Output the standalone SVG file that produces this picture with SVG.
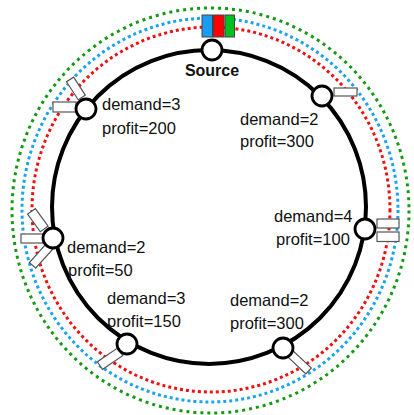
<svg xmlns="http://www.w3.org/2000/svg" width="414" height="415" viewBox="0 0 414 415">
<style>
.ring{fill:none;stroke-width:3}
.red{stroke:#ee1111;stroke-dasharray:3 3}
.blue{stroke:#1aa3f2;stroke-dasharray:3 3}
.green{stroke:#139a13;stroke-dasharray:3 4}
.box{fill:#fff;stroke:#555;stroke-width:1.2}
.node{fill:#fff;stroke:#000;stroke-width:2.8}
.lbl{font-family:"Liberation Sans",Arial,sans-serif;font-size:16.5px;fill:#111}
.src{font-family:"Liberation Sans",Arial,sans-serif;font-size:16px;font-weight:bold;fill:#111}
</style>
<rect width="414" height="415" fill="#fff"/>
<g id="connectors">
<ellipse class="ring green" cx="210.5" cy="210.5" rx="198.5" ry="202.5"/>
<ellipse class="ring blue" cx="210" cy="210" rx="188" ry="192"/>
<ellipse class="ring red" cx="211" cy="209.5" rx="179" ry="182.5"/>
<circle cx="209" cy="207" r="157" fill="none" stroke="#000" stroke-width="4"/>
</g>
<g id="battery">
<rect x="202" y="15" width="10.5" height="22" fill="#1a9cf2" stroke="#444" stroke-width="1"/>
<rect x="213.5" y="15" width="10.5" height="22" fill="#ff0000" stroke="#444" stroke-width="1"/>
<rect x="225" y="15" width="9.5" height="22" fill="#00c020" stroke="#444" stroke-width="1"/>
</g>
<g id="source">
<circle class="node" cx="212" cy="50" r="10"/>
<text class="src" x="212" y="76" text-anchor="middle">Source</text>
</g>
<g id="node-tl">
<rect class="box" x="53" y="102" width="23" height="10"/>
<g transform="translate(86,109) rotate(-123)"><rect class="box" x="12" y="-1.5" width="21.5" height="8.5"/></g>
<circle class="node" cx="86" cy="109" r="10"/>
<text class="lbl" x="102" y="110">demand=3</text>
<text class="lbl" x="102" y="134">profit=200</text>
</g>
<g id="node-tr">
<rect class="box" x="334" y="88" width="23" height="8"/>
<circle class="node" cx="322" cy="96" r="10"/>
<text class="lbl" x="240" y="125">demand=2</text>
<text class="lbl" x="240" y="147">profit=300</text>
</g>
<g id="node-r">
<rect class="box" x="377" y="219" width="22" height="9"/>
<rect class="box" x="377" y="232" width="22" height="9.5"/>
<circle class="node" cx="365" cy="229" r="10"/>
<text class="lbl" x="274" y="222">demand=4</text>
<text class="lbl" x="276" y="245">profit=100</text>
</g>
<g id="node-l">
<rect class="box" x="21" y="234" width="22" height="9"/>
<g transform="translate(53,238) rotate(-126)"><rect class="box" x="12.5" y="-6.6" width="21.7" height="9.6"/></g>
<g transform="translate(53,238) rotate(132)"><rect class="box" x="9" y="-7.3" width="25" height="8.4"/></g>
<circle class="node" cx="53" cy="238" r="10"/>
<text class="lbl" x="67" y="253">demand=2</text>
<text class="lbl" x="68" y="276">profit=50</text>
</g>
<g id="node-bl">
<g transform="translate(127,344) rotate(146)"><rect class="box" x="10" y="-7.3" width="24.5" height="9.2"/></g>
<circle class="node" cx="127" cy="344" r="10"/>
<text class="lbl" x="107" y="304">demand=3</text>
<text class="lbl" x="107" y="327">profit=150</text>
</g>
<g id="node-br">
<g transform="translate(283,348) rotate(43)"><rect class="box" x="9" y="-4.7" width="25.3" height="8"/></g>
<circle class="node" cx="283" cy="348" r="10"/>
<text class="lbl" x="230" y="306">demand=2</text>
<text class="lbl" x="230" y="329">profit=300</text>
</g>
</svg>
